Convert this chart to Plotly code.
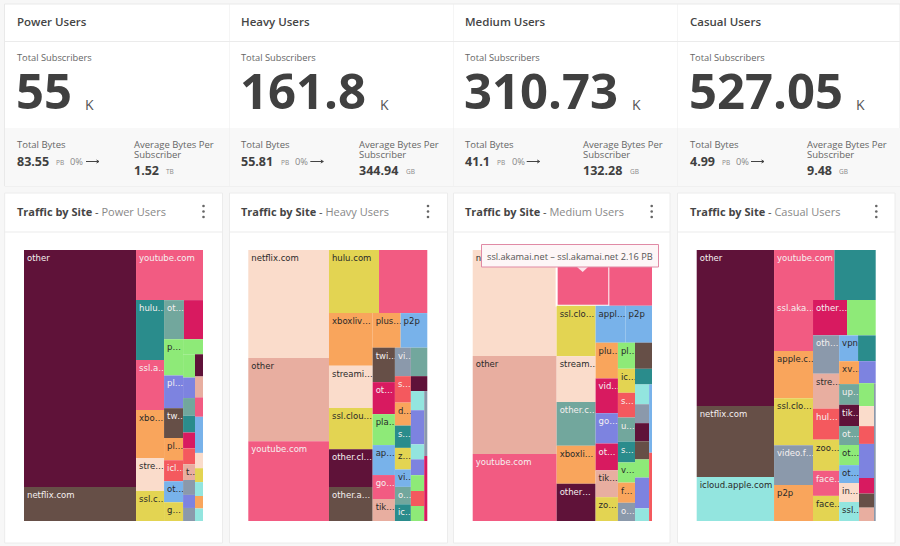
import plotly.graph_objects as go

W, H = 900, 546

# palette of the tiles
PLUM = '#5f1239'
BROWN = '#664f47'
PINK = '#f25b82'
TEAL = '#2a8c8c'
SAGE = '#72a79d'
CRIM = '#d81a60'
GREEN = '#8eea78'
PURP = '#7d83e0'
ROSE = '#e8aea0'
BLUE = '#78b2ea'
ORNG = '#f9a55c'
PEACH = '#fadccb'
YELL = '#e3d452'
CORAL = '#f4595e'
CYAN = '#93e5df'
SLATE = '#8b99ab'
LIGHT_TEXT_ON = [PLUM, BROWN, PINK, TEAL, SAGE, CRIM, PURP, CORAL, SLATE]

segments = ['Power Users', 'Heavy Users', 'Medium Users', 'Casual Users']
subscribers = ['55', '161.8', '310.73', '527.05']
total_bytes = ['83.55', '55.81', '41.1', '4.99']
avg_bytes = ['1.52', '344.94', '132.28', '9.48']
avg_units = ['TB', 'GB', 'GB', 'GB']

power_paths = ['aa', 'ab', 'ba',
               'bbaa', 'bbab', 'bbac', 'bbad', 'bbae',
               'bbbaa', 'bbbab',
               'bbbbaa', 'bbbbab', 'bbbbac', 'bbbbad', 'bbbbae', 'bbbbaf', 'bbbbag',
               'bbbbba',
               'bbbbbbaa', 'bbbbbbab', 'bbbbbbac', 'bbbbbbad', 'bbbbbbae',
               'bbbbbbaf', 'bbbbbbag', 'bbbbbbah', 'bbbbbbai', 'bbbbbbaj',
               'bbbbbbba', 'bbbbbbbb', 'bbbbbbbc', 'bbbbbbbd', 'bbbbbbbe',
               'bbbbbbbf', 'bbbbbbbg', 'bbbbbbbh', 'bbbbbbbi']
power_sites = ['other', 'netflix.com', 'youtube.com',
               'hulu…', 'ssl.a…', 'xbo…', 'stre…', 'ssl.c…',
               'ot…', '',
               'p…', 'pl…', 'tw…', 'pl…', 'icl…', 'ot…', 'g…',
               '',
               '', '', '', '', '', '', 't…', '', '', '',
               '', '', '', '', '', '', '', '', '']
power_bytes = [238.9, 34.3, 30.2,
               15.1, 12.6, 12.1, 8.3, 7.6,
               7.0, 6.7,
               6.2, 5.6, 5.1, 3.8, 3.6, 3.6, 3.2,
               2.7,
               2.5, 2.2, 1.9, 1.8, 1.7, 1.7, 1.7, 1.6, 1.4, 1.4,
               1.6, 1.5, 1.4, 2.6, 1.1, 1.0, 1.0, 0.9, 0.9]
power_colors = [PLUM, BROWN, PINK,
                TEAL, PINK, ORNG, PEACH, YELL,
                SAGE, CRIM,
                GREEN, PURP, BROWN, ORNG, CORAL, BLUE, YELL,
                GREEN,
                GREEN, PURP, SAGE, TEAL, CRIM, CORAL, ROSE, SLATE, PURP, SLATE,
                PLUM, ROSE, PINK, BLUE, PEACH, YELL, CYAN, ORNG, CYAN]

heavy_paths = ['aa', 'ab', 'ac', 'baa', 'bab',
               'bbaa', 'bbab', 'bbac', 'bbad', 'bbae',
               'bbbaa', 'bbbab',
               'bbbbaa', 'bbbbab', 'bbbbac', 'bbbbad', 'bbbbae', 'bbbbaf',
               'bbbbbaa', 'bbbbbab',
               'bbbbbbaa', 'bbbbbbab', 'bbbbbbac', 'bbbbbbad', 'bbbbbbae', 'bbbbbbaf', 'bbbbbbag',
               'bbbbbbba',
               'bbbbbbbbaa', 'bbbbbbbbab', 'bbbbbbbbac', 'bbbbbbbbad', 'bbbbbbbbae', 'bbbbbbbbaf', 'bbbbbbbbag',
               'bbbbbbbbba', 'bbbbbbbbbb']
heavy_sites = ['netflix.com', 'other', 'youtube.com', 'hulu.com', '',
               'xboxliv…', 'streami…', 'ssl.clou…', 'other.cl…', 'other.a…',
               'plus…', 'p2p',
               'twi…', 'ot…', 'pla…', 'ap…', 'go…', 'tik…',
               'vi…', '',
               's…', 'd…', 's…', 'z…', 'vi…', 'o…', 'ic…',
               '',
               '', '', '', '', '', '', '',
               '', '']
heavy_bytes = [78.4, 60.5, 57.8, 28.4, 27.4,
               20.7, 16.6, 16.2, 14.8, 13.4,
               8.7, 8.3,
               6.9, 6.4, 6.2, 6.0, 4.8, 4.4,
               4.1, 4.2,
               3.8, 3.3, 3.2, 3.1, 2.5, 2.5, 2.4,
               2.2,
               2.3, 4.1, 1.8, 1.9, 1.9, 1.8, 1.8,
               1.8, 1.8]
heavy_colors = [PEACH, ROSE, PINK, YELL, PINK,
                ORNG, PEACH, YELL, PLUM, BROWN,
                ORNG, BLUE,
                BROWN, CRIM, GREEN, BLUE, PINK, ROSE,
                SLATE, SAGE,
                CORAL, ORNG, TEAL, YELL, BLUE, SAGE, TEAL,
                PLUM,
                CYAN, PURP, CYAN, PURP, GREEN, CORAL, GREEN,
                SLATE, CRIM]

medium_paths = ['aa', 'ab', 'ac', 'baa', 'bab',
                'bbaa', 'bbab', 'bbac', 'bbad', 'bbae',
                'bbbaa', 'bbbab',
                'bbbbaa', 'bbbbab', 'bbbbac', 'bbbbad', 'bbbbae', 'bbbbaf',
                'bbbbba', 'bbbbbb', 'bbbbbc', 'bbbbbd', 'bbbbbe', 'bbbbbf', 'bbbbbg', 'bbbbbh',
                'bbbbca', 'bbbbcb',
                'bbbbccaa', 'bbbbccab', 'bbbbccac', 'bbbbccad', 'bbbbccae', 'bbbbccaf', 'bbbbccag',
                'bbbbccba', 'bbbbccbb']
medium_sites = ['netflix.com', 'other', 'youtube.com', '', '',
                'ssl.clo…', 'stream…', 'other.c…', 'xboxli…', 'other…',
                'appl…', 'p2p',
                'plu…', 'vid…', 'go…', 'ot…', 'tik…', 'zo…',
                'pl…', 'ic…', 's…', 'u…', 's…', 'v…', 'f…', 'o…',
                '', '',
                '', '', '', '', '', '', '',
                '', '']
medium_bytes = [80.1, 74.1, 50.7, 26.4, 21.4,
                17.7, 16.1, 15.3, 13.3, 13.1,
                10.0, 8.8,
                7.2, 7.0, 6.1, 5.4, 5.4, 4.8,
                4.0, 3.7, 3.8, 3.7, 3.2, 3.1, 3.1, 2.8,
                4.0, 2.4,
                2.5, 2.4, 2.3, 2.3, 2.3, 3.9, 1.6,
                1.8, 1.8]
medium_colors = [PEACH, ROSE, PINK, PINK, PINK,
                 YELL, PEACH, SAGE, ORNG, PLUM,
                 BLUE, BLUE,
                 ORNG, CRIM, PURP, CRIM, ROSE, YELL,
                 GREEN, YELL, CORAL, SAGE, TEAL, GREEN, ORNG, SLATE,
                 BROWN, TEAL,
                 CYAN, SLATE, PLUM, BROWN, GREEN, PURP, CYAN,
                 BLUE, CORAL]

casual_paths = ['aa', 'ab', 'ac', 'baa', 'bab',
                'bbaa', 'bbab', 'bbac', 'bbad', 'bbae',
                'bbbaa', 'bbbab',
                'bbbbaa', 'bbbbab', 'bbbbac', 'bbbbad', 'bbbbae', 'bbbbaf',
                'bbbbbaa', 'bbbbbab',
                'bbbbbbaa', 'bbbbbbab', 'bbbbbbac', 'bbbbbbad', 'bbbbbbae', 'bbbbbbaf', 'bbbbbbag', 'bbbbbbah',
                'bbbbbbba',
                'bbbbbbbbaa', 'bbbbbbbbab', 'bbbbbbbbac', 'bbbbbbbbad', 'bbbbbbbbae', 'bbbbbbbbaf', 'bbbbbbbbag',
                'bbbbbbbbb']
casual_sites = ['other', 'netflix.com', 'icloud.apple.com', 'youtube.com', '',
                'ssl.aka…', 'apple.c…', 'ssl.clo…', 'video.f…', 'p2p',
                'other…', '',
                'oth…', 'stre…', 'hul…', 'zoo…', 'face…', 'face…',
                'vpn', '',
                'xv…', 'up…', 'tik…', 'ot…', 'ot…', 'ot…', 'in…', 'ssl…',
                '',
                '', '', '', '', '', '', '',
                '']
casual_bytes = [108.6, 49.4, 30.6, 27.2, 18.6,
                17.9, 16.5, 16.5, 14.0, 12.6,
                10.8, 9.1,
                9.0, 8.2, 7.3, 7.3, 5.9, 5.9,
                4.4, 4.1,
                4.1, 3.7, 3.8, 3.4, 3.6, 3.2, 3.4, 3.4,
                3.3,
                3.1, 2.7, 2.4, 4.6, 2.1, 1.9, 1.8,
                2.1]
casual_colors = [PLUM, BROWN, CYAN, PINK, TEAL,
                 PINK, ORNG, YELL, SLATE, ORNG,
                 CRIM, GREEN,
                 SLATE, ROSE, CORAL, YELL, PINK, YELL,
                 BLUE, TEAL,
                 ORNG, SAGE, PLUM, SAGE, GREEN, BLUE, PEACH, CYAN,
                 PURP,
                 GREEN, PEACH, CORAL, PURP, CRIM, BROWN, ROSE,
                 SLATE]

tooltip_text = 'ssl.akamai.net – ssl.akamai.net 2.16 PB'
hovered_tile = 'baa'  # white outline on the Medium chart

FONT = 'Open Sans'


def xp(x):
    return x / W


def yp(y):
    return 1 - y / H


def rect(x0, y0, x1, y1, fill, line=None, layer='below'):
    return dict(type='rect', xref='paper', yref='paper', x0=xp(x0), x1=xp(x1), y0=yp(y0), y1=yp(y1),
                fillcolor=fill, line=dict(color=line or fill, width=1 if line else 0), layer=layer)


def label(x, y, text, size, color='#4a4a4a', weight=400, anchor='left'):
    return dict(xref='paper', yref='paper', x=xp(x), y=yp(y), text=text, showarrow=False,
                xanchor=anchor, yanchor='middle', borderpad=0, borderwidth=0,
                font=dict(family=FONT, size=size, color=color, weight=weight))


def treemap(paths, sites, sizes, colors, x0, x1, outline=None):
    ids, parents, text, values, fills, widths, inks = ['r'], [''], [''], [0], ['rgba(0,0,0,0)'], [0], ['#222222']
    seen = {'r'}
    for p, s, v, c in zip(paths, sites, sizes, colors):
        for n in range(1, len(p) + 1):
            node = p[:n]
            if node in seen:
                continue
            seen.add(node)
            ids.append(node)
            parents.append(node[:-1] or 'r')
            leaf = node == p
            text.append(s if leaf else '')
            values.append(v if leaf else 0)
            fills.append(c if leaf else 'rgba(0,0,0,0)')
            widths.append(2 if leaf and node == outline else 0)
            inks.append('#f5f0f0' if c in LIGHT_TEXT_ON else '#2a2a2a')
    return go.Treemap(
        ids=ids, parents=parents, labels=ids, values=values, text=text,
        branchvalues='remainder', sort=False, textinfo='text', hoverinfo='skip',
        textposition='top left', pathbar=dict(visible=False),
        tiling=dict(packing='slice-dice', pad=0),
        marker=dict(colors=fills, pad=dict(t=0, l=0, r=0, b=0),
                    line=dict(color='white', width=widths)),
        textfont=dict(family='DejaVu Sans', size=8.5, color=inks),
        domain=dict(x=[xp(x0), xp(x1)], y=[yp(521), yp(250)]),
    )


fig = go.Figure()
fig.add_trace(treemap(power_paths, power_sites, power_bytes, power_colors, 24, 203))
fig.add_trace(treemap(heavy_paths, heavy_sites, heavy_bytes, heavy_colors, 248.3, 427.3))
fig.add_trace(treemap(medium_paths, medium_sites, medium_bytes, medium_colors, 472.7, 652, outline=hovered_tile))
fig.add_trace(treemap(casual_paths, casual_sites, casual_bytes, casual_colors, 696.7, 875.7))

shapes = []
notes = []

# summary strip along the top
shapes.append(rect(4.5, 4, 900, 186, 'white', '#e9e9e9'))
shapes.append(rect(5, 128, 900, 186, '#f8f8f8'))
shapes.append(rect(5, 41, 900, 42, '#ebebeb'))

offsets = [0, 224.3, 448.3, 672.7]
card_left = [4.7, 229.5, 453.5, 677.5]
card_right = [222.5, 447.5, 670, 895]
k_x = [85, 379.5, 631.7, 856]
pb_x = [56, 281, 497.3, 721.7]
pct_x = [70, 294.7, 511.7, 736]
arrow_x = [86, 310.3, 526.7, 751]
unit_x = [166.3, 405.7, 630, 839]
kebab_x = [203.5, 428, 651.7, 876.3]

for i, seg in enumerate(segments):
    dx = offsets[i]
    if i:
        shapes.append(rect(card_left[i] - 0.5, 4, card_left[i], 186, '#ebebeb'))
    notes.append(label(17 + dx, 22, seg, 11.5, '#454545', 600))
    notes.append(label(17 + dx, 58, 'Total Subscribers', 9.3, '#666666'))
    notes.append(label(16 + dx, 90, subscribers[i], 49, '#404040', 700))
    notes.append(label(k_x[i], 105, 'K', 14, '#555555'))
    notes.append(label(17 + dx, 144.5, 'Total Bytes', 9.5, '#666666'))
    notes.append(label(17 + dx, 161, total_bytes[i], 12.5, '#404040', 700))
    notes.append(label(pb_x[i], 162, 'PB', 6.5, '#888888'))
    notes.append(label(pct_x[i], 161.5, '0%', 9.3, '#888888'))
    ax = arrow_x[i]
    shapes.append(dict(type='path', xref='paper', yref='paper', layer='above',
                       path=f'M {xp(ax)} {yp(161.5)} L {xp(ax + 13)} {yp(161.5)} '
                            f'M {xp(ax + 10.5)} {yp(160)} L {xp(ax + 13)} {yp(161.5)} L {xp(ax + 10.5)} {yp(163)}',
                       line=dict(color='#444444', width=1)))
    notes.append(label(134.3 + dx, 144.5, 'Average Bytes Per', 9.5, '#666666'))
    notes.append(label(134.3 + dx, 154, 'Subscriber', 9.5, '#666666'))
    notes.append(label(134.3 + dx, 170, avg_bytes[i], 12.5, '#404040', 700))
    notes.append(label(unit_x[i], 171.5, avg_units[i], 6.5, '#888888'))

    # chart card underneath
    shapes.append(rect(card_left[i], 193, card_right[i], 543, 'white', '#ececec'))
    shapes.append(rect(card_left[i], 231.5, card_right[i], 232.5, '#ececec'))
    notes.append(label(17 + dx, 211.5, f'<b>Traffic by Site</b> - <span style="color:#888888">{seg}</span>',
                       11, '#454545'))
    for ky in (206, 211.5, 217):
        shapes.append(dict(type='circle', xref='paper', yref='paper', layer='above',
                           x0=xp(kebab_x[i] - 1.3), x1=xp(kebab_x[i] + 1.3), y0=yp(ky + 1.3), y1=yp(ky - 1.3),
                           fillcolor='#666666', line=dict(width=0)))

# the open tooltip on the Medium chart
shapes.append(dict(type='path', xref='paper', yref='paper', layer='above',
                   path=f'M {xp(577)} {yp(267)} L {xp(582.7)} {yp(272)} L {xp(588)} {yp(267)} Z',
                   fillcolor='#fbe3ea', line=dict(width=0)))
shapes.append(rect(481.5, 244.5, 658.5, 267, '#fdf6f7', '#e08aa5', layer='above'))
notes.append(label(486.5, 256, tooltip_text, 9.2, '#555555'))

fig.update_layout(width=W, height=H, margin=dict(l=0, r=0, t=0, b=0), showlegend=False,
                  paper_bgcolor='#f7f7f7', shapes=shapes, annotations=notes,
                  font=dict(family=FONT), uniformtext=dict(minsize=8.5, mode='show'))

fig.write_html("out.html", config=dict(displayModeBar=False),
               post_script="document.body.style.margin='0';")
